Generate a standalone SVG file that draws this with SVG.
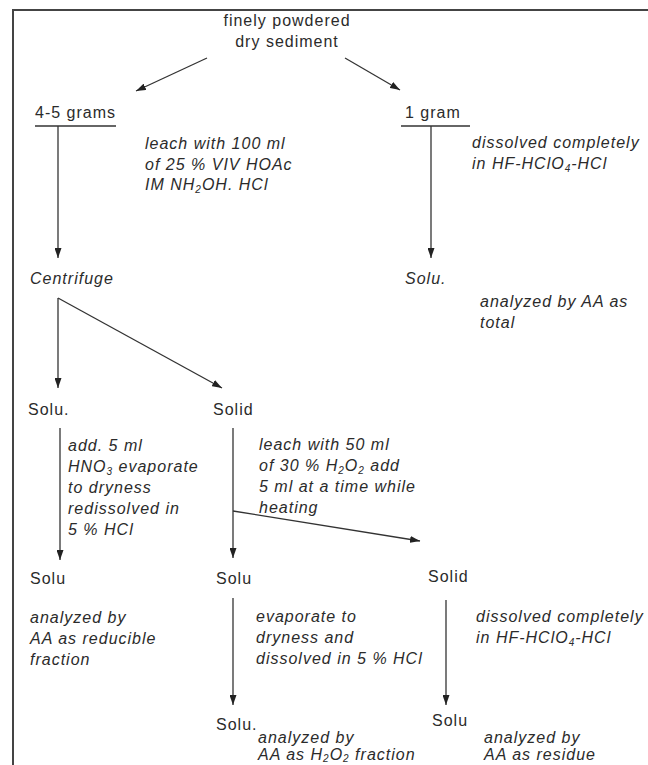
<svg xmlns="http://www.w3.org/2000/svg" width="648" height="765" viewBox="0 0 648 765">
<defs>
<style>
text{font-family:"Liberation Sans",Arial,sans-serif;font-size:16px;fill:#2b2b2b;letter-spacing:1px}
.i{font-style:italic}
.sub{font-size:10px}
.ln{stroke:#333;stroke-width:1.3;fill:none}
</style>
<marker id="ah" markerUnits="userSpaceOnUse" markerWidth="10" markerHeight="7" refX="10" refY="3.5" orient="auto">
<path d="M0,0 L10,3.5 L0,7 z" fill="#222"/>
</marker>
</defs>
<rect width="648" height="765" fill="#fff"/>
<path d="M13,765 V10 H648" stroke="#444" stroke-width="2" fill="none"/>

<g id="connectors">
<line class="ln" x1="207" y1="58" x2="136" y2="91" marker-end="url(#ah)"/>
<line class="ln" x1="345" y1="58" x2="400" y2="90" marker-end="url(#ah)"/>
<line class="ln" x1="35" y1="126" x2="116" y2="126"/>
<line class="ln" x1="401" y1="126" x2="470" y2="126"/>
<line class="ln" x1="58" y1="126" x2="58" y2="258" marker-end="url(#ah)"/>
<line class="ln" x1="431" y1="126" x2="431" y2="258" marker-end="url(#ah)"/>
<line class="ln" x1="58" y1="298" x2="58" y2="388" marker-end="url(#ah)"/>
<line class="ln" x1="58" y1="298" x2="222" y2="388" marker-end="url(#ah)"/>
<line class="ln" x1="60" y1="428" x2="60" y2="560" marker-end="url(#ah)"/>
<line class="ln" x1="233" y1="428" x2="233" y2="558" marker-end="url(#ah)"/>
<line class="ln" x1="233" y1="511" x2="420" y2="541" marker-end="url(#ah)"/>
<line class="ln" x1="233" y1="598" x2="233" y2="705" marker-end="url(#ah)"/>
<line class="ln" x1="446" y1="600" x2="446" y2="705" marker-end="url(#ah)"/>
</g>

<g id="sediment">
<text x="287" y="26" text-anchor="middle">finely powdered</text>
<text x="287" y="47" text-anchor="middle">dry sediment</text>
</g>
<g id="grams45"><text x="35" y="118">4-5 grams</text></g>
<g id="gram1"><text x="405" y="118">1 gram</text></g>
<g id="leach1">
<text class="i" x="145" y="149">leach with 100 ml</text>
<text class="i" x="145" y="170">of 25 % VIV HOAc</text>
<text class="i" x="145" y="190">IM NH<tspan class="sub" dy="3">2</tspan><tspan dy="-3">OH. HCl</tspan></text>
</g>
<g id="dissolve1">
<text class="i" x="472" y="148">dissolved completely</text>
<text class="i" x="472" y="169">in HF-HClO<tspan class="sub" dy="3">4</tspan><tspan dy="-3">-HCl</tspan></text>
</g>
<g id="centrifuge"><text class="i" x="30" y="284">Centrifuge</text></g>
<g id="solu-total"><text class="i" x="405" y="284">Solu.</text></g>
<g id="total-note">
<text class="i" x="480" y="307">analyzed by AA as</text>
<text class="i" x="480" y="328">total</text>
</g>
<g id="solu1"><text x="28" y="415">Solu.</text></g>
<g id="solid1"><text x="213" y="415">Solid</text></g>
<g id="hno3-note">
<text class="i" x="68" y="451">add. 5 ml</text>
<text class="i" x="68" y="472">HNO<tspan class="sub" dy="3">3</tspan><tspan dy="-3"> evaporate</tspan></text>
<text class="i" x="68" y="493">to dryness</text>
<text class="i" x="68" y="514">redissolved in</text>
<text class="i" x="68" y="535">5 % HCl</text>
</g>
<g id="leach2">
<text class="i" x="259" y="450">leach with 50 ml</text>
<text class="i" x="259" y="471">of 30 % H<tspan class="sub" dy="3">2</tspan><tspan dy="-3">O</tspan><tspan class="sub" dy="3">2</tspan><tspan dy="-3"> add</tspan></text>
<text class="i" x="259" y="492">5 ml at a time while</text>
<text class="i" x="259" y="513">heating</text>
</g>
<g id="solu2"><text x="30" y="584">Solu</text></g>
<g id="solu3"><text x="216" y="584">Solu</text></g>
<g id="solid2"><text x="428" y="582">Solid</text></g>
<g id="reducible-note">
<text class="i" x="30" y="623">analyzed by</text>
<text class="i" x="30" y="644">AA as reducible</text>
<text class="i" x="30" y="665">fraction</text>
</g>
<g id="evap-note">
<text class="i" x="256" y="622">evaporate to</text>
<text class="i" x="256" y="643">dryness and</text>
<text class="i" x="256" y="664">dissolved in 5 % HCl</text>
</g>
<g id="dissolve2">
<text class="i" x="476" y="622">dissolved completely</text>
<text class="i" x="476" y="643">in HF-HClO<tspan class="sub" dy="3">4</tspan><tspan dy="-3">-HCl</tspan></text>
</g>
<g id="solu4"><text x="216" y="730">Solu.</text></g>
<g id="solu5"><text x="432" y="726">Solu</text></g>
<g id="h2o2-note">
<text class="i" x="258" y="743">analyzed by</text>
<text class="i" x="258" y="760">AA as H<tspan class="sub" dy="2">2</tspan><tspan dy="-2">O</tspan><tspan class="sub" dy="2">2</tspan><tspan dy="-2"> fraction</tspan></text>
</g>
<g id="residue-note">
<text class="i" x="484" y="743">analyzed by</text>
<text class="i" x="484" y="760">AA as residue</text>
</g>
</svg>
